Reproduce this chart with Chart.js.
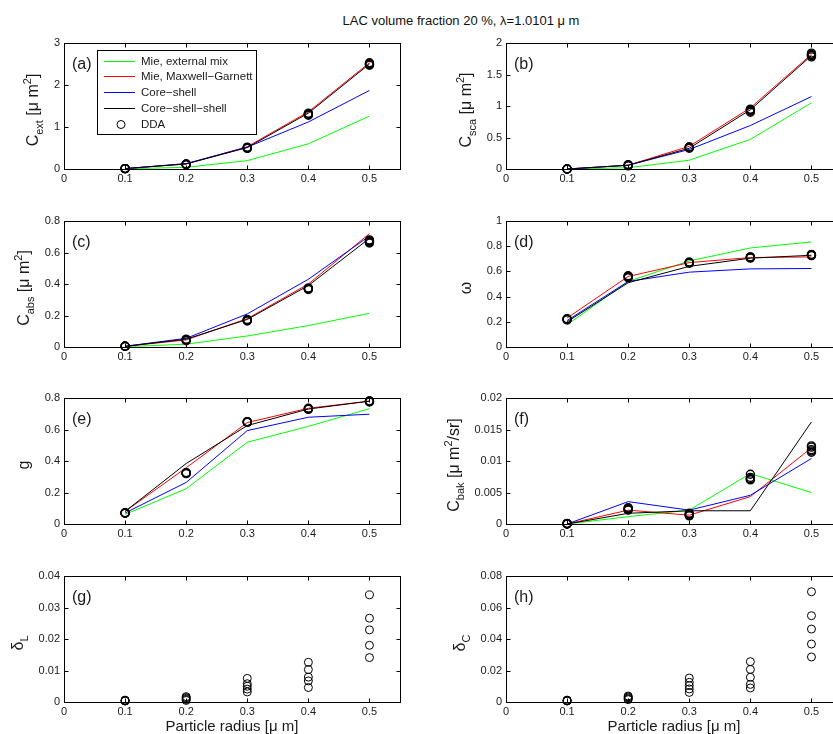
<!DOCTYPE html>
<html>
<head>
<meta charset="utf-8">
<script src="https://cdn.jsdelivr.net/npm/chart.js@4.4.1/dist/chart.umd.min.js"></script>
<style>
  html, body { margin: 0; padding: 0; background: #fff; }
  body { width: 833px; height: 734px; position: relative; overflow: hidden;
         font-family: "Liberation Sans", Arial, Helvetica, sans-serif; }
  #suptitle { position: absolute; top: 13px; left: 461px; transform: translateX(-50%);
              font-size: 13px; line-height: 16px; color: #111; white-space: nowrap; }
  canvas { position: absolute; }
</style>
</head>
<body>
<div id="suptitle">LAC volume fraction 20 %, λ=1.0101 μ m</div>
<script>
'use strict';

// ── Particle radii (µm) and axis ticks ──
const radius = [0.1, 0.2, 0.3, 0.4, 0.5];
const xTicks = [0, 0.1, 0.2, 0.3, 0.4, 0.5];
const X_MAX = 0.55;

const seriesNames = ['Mie, external mix', 'Mie, Maxwell\u2212Garnett', 'Core\u2212shell', 'Core\u2212shell\u2212shell', 'DDA'];
const seriesColors = ['#00ff00', '#ff0000', '#0000ff', '#000000'];

// (a) extinction cross section
const extA = [0.005, 0.04, 0.20, 0.60, 1.26];
const mgA  = [0.01, 0.12, 0.53, 1.36, 2.53];
const csA  = [0.01, 0.13, 0.52, 1.12, 1.87];
const cssA = [0.01, 0.12, 0.51, 1.33, 2.50];
const ddaA = [[0.01, 0.01, 0.01, 0.01, 0.01], [0.10, 0.11, 0.11, 0.12, 0.12], [0.49, 0.50, 0.51, 0.52, 0.50],
              [1.28, 1.30, 1.31, 1.33, 1.30], [2.47, 2.49, 2.51, 2.53, 2.50]];
const ticksA = [0, 1, 2, 3];

// (b) scattering cross section
const extB = [0.0, 0.02, 0.14, 0.47, 1.05];
const mgB  = [0.0, 0.06, 0.36, 0.97, 1.82];
const csB  = [0.0, 0.06, 0.31, 0.69, 1.15];
const cssB = [0.0, 0.06, 0.33, 0.94, 1.80];
const ddaB = [[0, 0, 0, 0, 0], [0.05, 0.06, 0.06, 0.06, 0.07], [0.33, 0.34, 0.35, 0.34, 0.35],
              [0.90, 0.92, 0.94, 0.95, 0.93], [1.78, 1.80, 1.82, 1.84, 1.81]];
const ticksB = [0, 0.5, 1, 1.5, 2];

// (c) absorption cross section
const extC = [0.002, 0.018, 0.07, 0.136, 0.214];
const mgC  = [0.004, 0.045, 0.18, 0.40, 0.72];
const csC  = [0.005, 0.055, 0.21, 0.43, 0.705];
const cssC = [0.004, 0.05, 0.175, 0.39, 0.69];
const ddaC = [[0.005, 0.005, 0.005, 0.005, 0.005], [0.04, 0.045, 0.045, 0.05, 0.045], [0.165, 0.17, 0.17, 0.175, 0.17],
              [0.365, 0.37, 0.375, 0.37, 0.37], [0.66, 0.665, 0.67, 0.68, 0.675]];
const ticksC = [0, 0.2, 0.4, 0.6, 0.8];

// (d) single scattering albedo
const extD = [0.177, 0.52, 0.683, 0.786, 0.834];
const mgD  = [0.23, 0.56, 0.67, 0.71, 0.715];
const csD  = [0.21, 0.52, 0.594, 0.62, 0.623];
const cssD = [0.20, 0.51, 0.64, 0.705, 0.728];
const ddaD = [[0.215, 0.22, 0.22, 0.225, 0.22], [0.55, 0.555, 0.56, 0.56, 0.565], [0.665, 0.67, 0.67, 0.675, 0.67],
              [0.705, 0.71, 0.715, 0.71, 0.715], [0.725, 0.73, 0.73, 0.735, 0.73]];
const ticksD = [0, 0.2, 0.4, 0.6, 0.8, 1];

// (e) asymmetry parameter
const extE = [0.061, 0.224, 0.519, 0.62, 0.732];
const mgE  = [0.08, 0.357, 0.644, 0.735, 0.78];
const csE  = [0.07, 0.264, 0.593, 0.678, 0.697];
const cssE = [0.08, 0.384, 0.625, 0.73, 0.78];
const ddaE = [[0.07, 0.07, 0.072, 0.07, 0.068], [0.32, 0.323, 0.325, 0.322, 0.326], [0.645, 0.648, 0.65, 0.647, 0.649],
              [0.728, 0.732, 0.735, 0.73, 0.733], [0.775, 0.779, 0.782, 0.778, 0.78]];
const ticksE = [0, 0.2, 0.4, 0.6, 0.8];

// (f) backscattering cross section
const extF = [0, 0.00117, 0.0022, 0.0080, 0.0050];
const mgF  = [0, 0.0022, 0.0014, 0.00435, 0.0121];
const csF  = [0, 0.00355, 0.0022, 0.00456, 0.0104];
const cssF = [0, 0.0017, 0.0021, 0.0021, 0.0162];
const ddaF = [[0, 0.00005, 0.0001, 0, 0.00005], [0.0022, 0.0024, 0.0026, 0.0023, 0.0025], [0.0013, 0.0015, 0.0017, 0.0014, 0.0016],
              [0.0070, 0.0072, 0.0074, 0.0079, 0.0071], [0.0114, 0.0116, 0.0118, 0.0124, 0.0122]];
const ticksF = [0, 0.005, 0.01, 0.015, 0.02];

// (g) linear depolarisation, (h) circular depolarisation (DDA only)
const ddaG = [[0.0003, 0.0004, 0.0005, 0.0006, 0.0004], [0.0005, 0.0008, 0.0011, 0.0014, 0.0017],
              [0.0032, 0.0041, 0.0050, 0.0058, 0.0075], [0.0046, 0.0067, 0.0079, 0.0103, 0.0126],
              [0.0141, 0.0180, 0.0229, 0.0266, 0.0340]];
const ticksG = [0, 0.01, 0.02, 0.03, 0.04];
const ddaH = [[0.0006, 0.0008, 0.0010, 0.0012, 0.0009], [0.0015, 0.0020, 0.0026, 0.0032, 0.0038],
              [0.0061, 0.0083, 0.0104, 0.0125, 0.0152], [0.0089, 0.0112, 0.0157, 0.0207, 0.0256],
              [0.0286, 0.0368, 0.0463, 0.0548, 0.0700]];
const ticksH = [0, 0.02, 0.04, 0.06, 0.08];

const X_TITLE = 'Particle radius [\u03bc m]';

// ── Layout ──
const FONT = '"Liberation Sans", Arial, Helvetica, sans-serif';
const INK = '#1a1a1a';
const BOX_W = 336, BOX_H = 126;
const PAD_L = 64, PAD_T = 12, PAD_R = 12;
const COL_LEFT = [64, 506];
const ROW_TOP = [43, 221, 398, 576];
const SUB = 'sub', SUP = 'sup';

const PANELS = [
  { tag: '(a)', col: 0, row: 0, lines: [extA, mgA, csA, cssA], dda: ddaA, yTicks: ticksA, legend: true,
    yLabel: [['C'], ['ext', SUB], [' [\u03bc m'], ['2', SUP], [']']] },
  { tag: '(b)', col: 1, row: 0, lines: [extB, mgB, csB, cssB], dda: ddaB, yTicks: ticksB,
    yLabel: [['C'], ['sca', SUB], [' [\u03bc m'], ['2', SUP], [']']] },
  { tag: '(c)', col: 0, row: 1, lines: [extC, mgC, csC, cssC], dda: ddaC, yTicks: ticksC,
    yLabel: [['C'], ['abs', SUB], [' [\u03bc m'], ['2', SUP], [']']] },
  { tag: '(d)', col: 1, row: 1, lines: [extD, mgD, csD, cssD], dda: ddaD, yTicks: ticksD,
    yLabel: [['\u03c9']] },
  { tag: '(e)', col: 0, row: 2, lines: [extE, mgE, csE, cssE], dda: ddaE, yTicks: ticksE,
    yLabel: [['g']] },
  { tag: '(f)', col: 1, row: 2, lines: [extF, mgF, csF, cssF], dda: ddaF, yTicks: ticksF,
    yLabel: [['C'], ['bak', SUB], [' [\u03bc m'], ['2', SUP], ['/sr]']] },
  { tag: '(g)', col: 0, row: 3, lines: [], dda: ddaG, yTicks: ticksG, thin: true,
    yLabel: [['\u03b4'], ['L', SUB]] },
  { tag: '(h)', col: 1, row: 3, lines: [], dda: ddaH, yTicks: ticksH, thin: true,
    yLabel: [['\u03b4'], ['C', SUB]] },
];

const fmt = v => String(+Number(v).toFixed(4));

function lineSet(i, vals) {
  return {
    label: seriesNames[i],
    data: radius.map((x, k) => ({ x, y: vals[k] })),
    borderColor: seriesColors[i],
    borderWidth: 1,
    pointRadius: 0,
    fill: false,
    tension: 0,
    order: 5 - i,
  };
}

function ddaSet(groups, thin) {
  return {
    label: seriesNames[4],
    data: groups.flatMap((g, k) => g.map(y => ({ x: radius[k], y }))),
    showLine: false,
    pointStyle: 'circle',
    pointRadius: 4,
    pointBorderColor: '#000',
    pointBackgroundColor: 'rgba(0,0,0,0)',
    pointBorderWidth: thin ? 1 : 1.4,
    clip: false,
    order: 0,
  };
}

// rotated label with sub/superscripts, reading bottom to top
function drawRichLabel(ctx, parts, cx, cy) {
  const big = 16, small = 11;
  ctx.save();
  ctx.translate(cx, cy);
  ctx.rotate(-Math.PI / 2);
  ctx.textBaseline = 'middle';
  ctx.textAlign = 'left';
  ctx.fillStyle = INK;
  const sized = parts.map(([t, kind]) => {
    const size = kind ? small : big;
    ctx.font = `${size}px ${FONT}`;
    return { t, size, dy: kind === SUB ? 6 : kind === SUP ? -6 : 0, w: ctx.measureText(t).width };
  });
  let x = -sized.reduce((s, p) => s + p.w, 0) / 2;
  for (const p of sized) {
    ctx.font = `${p.size}px ${FONT}`;
    ctx.fillText(p.t, x, p.dy);
    x += p.w;
  }
  ctx.restore();
}

function drawLegend(ctx, chart, a) {
  const bx = a.left + 33.5, by = a.top + 7.5, bw = 159, bh = 84;
  ctx.fillStyle = '#fff';
  ctx.fillRect(bx, by, bw, bh);
  ctx.strokeStyle = '#000';
  ctx.lineWidth = 1;
  ctx.strokeRect(bx, by, bw, bh);
  ctx.font = `11.5px ${FONT}`;
  ctx.textBaseline = 'middle';
  ctx.textAlign = 'left';
  chart.data.datasets.forEach((ds, i) => {
    const ry = Math.round(a.top + 17.5 + i * 15.8) + 0.5;
    if (ds.showLine === false) {
      ctx.beginPath();
      ctx.arc(a.left + 57, ry, 4, 0, Math.PI * 2);
      ctx.lineWidth = 1;
      ctx.strokeStyle = '#000';
      ctx.stroke();
    } else {
      ctx.beginPath();
      ctx.moveTo(a.left + 40, ry);
      ctx.lineTo(a.left + 71, ry);
      ctx.lineWidth = 1;
      ctx.strokeStyle = ds.borderColor;
      ctx.stroke();
    }
    ctx.fillStyle = INK;
    ctx.fillText(ds.label, a.left + 77, ry);
  });
}

function framePlugin(p) {
  return {
    id: 'frame',
    afterDraw(chart) {
      const { ctx, chartArea: a, scales: { x, y } } = chart;
      const L = a.left + 0.5, T = a.top + 0.5, R = a.right + 0.5, B = a.bottom + 0.5;
      ctx.save();
      ctx.strokeStyle = '#000';
      ctx.lineWidth = 1;
      ctx.strokeRect(L, T, R - L, B - T);

      // inward ticks on all four sides
      const tl = 4;
      ctx.beginPath();
      x.ticks.forEach(t => {
        const px = Math.round(x.getPixelForValue(t.value)) + 0.5;
        ctx.moveTo(px, B); ctx.lineTo(px, B - tl);
        ctx.moveTo(px, T); ctx.lineTo(px, T + tl);
      });
      y.ticks.forEach(t => {
        const py = Math.round(y.getPixelForValue(t.value)) + 0.5;
        ctx.moveTo(L, py); ctx.lineTo(L + tl, py);
        ctx.moveTo(R, py); ctx.lineTo(R - tl, py);
      });
      ctx.stroke();

      // panel tag
      ctx.fillStyle = INK;
      ctx.font = `16px ${FONT}`;
      ctx.textBaseline = 'middle';
      ctx.textAlign = 'left';
      ctx.fillText(p.tag, a.left + 8, a.top + 22);

      // y-axis label, left of the widest tick label
      ctx.font = `11px ${FONT}`;
      const maxW = Math.max(...y.ticks.map(t => ctx.measureText(String(t.label)).width));
      drawRichLabel(ctx, p.yLabel, a.left - 4 - maxW - 20, (a.top + a.bottom) / 2 + 4);

      if (p.legend) drawLegend(ctx, chart, a);
      ctx.restore();
    },
  };
}

// ── Build panels ──
PANELS.forEach(p => {
  const xh = p.row === 3 ? 34 : 24;
  const canvas = document.createElement('canvas');
  canvas.width = PAD_L + BOX_W + PAD_R;
  canvas.height = PAD_T + BOX_H + xh;
  canvas.style.left = (COL_LEFT[p.col] - PAD_L) + 'px';
  canvas.style.top = (ROW_TOP[p.row] - PAD_T) + 'px';
  canvas.style.width = canvas.width + 'px';
  canvas.style.height = canvas.height + 'px';
  document.body.appendChild(canvas);

  const datasets = p.lines.map((vals, i) => lineSet(i, vals));
  datasets.push(ddaSet(p.dda, p.thin));

  const tickFont = { size: 11, family: FONT };
  new Chart(canvas.getContext('2d'), {
    type: 'line',
    data: { datasets },
    options: {
      responsive: false,
      animation: false,
      events: [],
      layout: { padding: { left: 0, top: PAD_T, right: PAD_R, bottom: 0 } },
      plugins: { legend: { display: false }, tooltip: { enabled: false } },
      scales: {
        x: {
          type: 'linear',
          min: 0,
          max: X_MAX,
          afterBuildTicks: s => { s.ticks = xTicks.map(v => ({ value: v })); },
          afterFit: s => { s.height = xh; },
          grid: { display: false, drawTicks: false },
          border: { display: false },
          ticks: { padding: 3, font: tickFont, color: INK, callback: fmt, maxRotation: 0, autoSkip: false },
          title: p.row === 3
            ? { display: true, text: X_TITLE, color: INK, font: { size: 15, family: FONT }, padding: { top: 0, bottom: 0 } }
            : { display: false },
        },
        y: {
          type: 'linear',
          min: p.yTicks[0],
          max: p.yTicks[p.yTicks.length - 1],
          afterBuildTicks: s => { s.ticks = p.yTicks.map(v => ({ value: v })); },
          afterFit: s => { s.width = PAD_L; },
          grid: { display: false, drawTicks: false },
          border: { display: false },
          ticks: { padding: 4, font: tickFont, color: INK, callback: fmt, autoSkip: false },
        },
      },
    },
    plugins: [framePlugin(p)],
  });
});
</script>
</body>
</html>
